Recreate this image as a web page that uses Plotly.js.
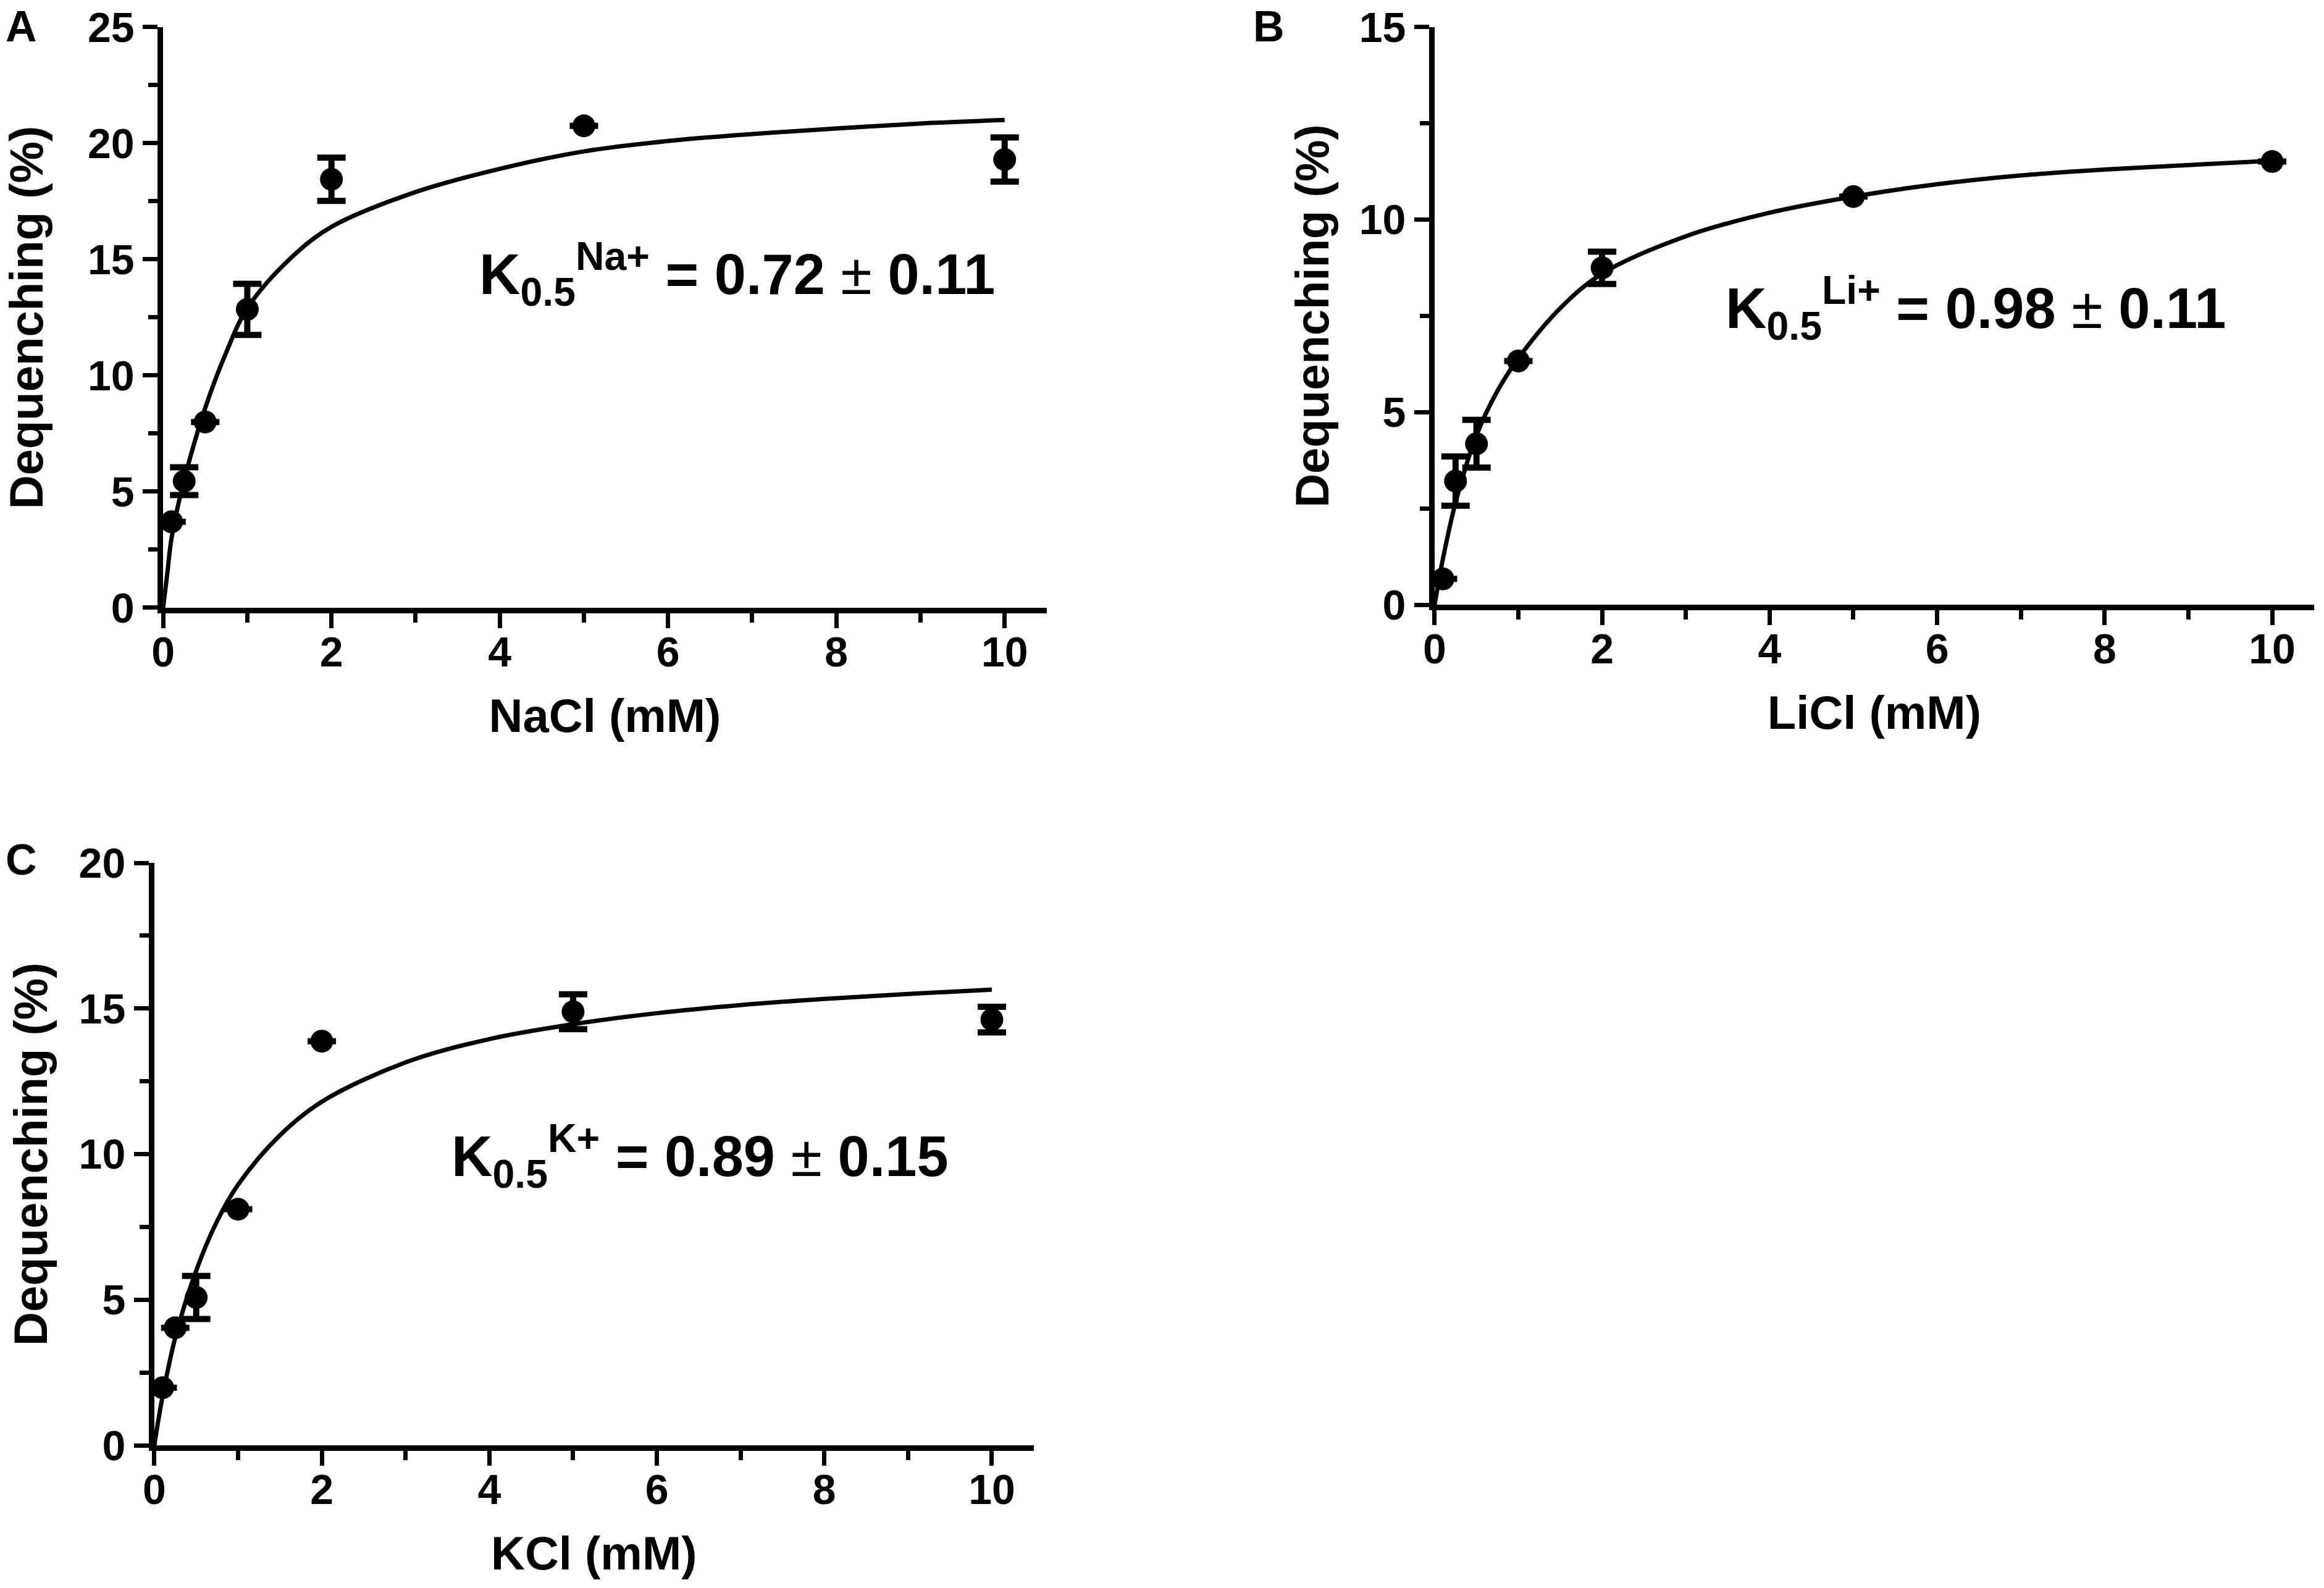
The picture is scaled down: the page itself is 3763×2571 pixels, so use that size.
<!DOCTYPE html>
<html>
<head>
<meta charset="utf-8">
<script src="https://cdn.plot.ly/plotly-3.0.1.min.js"></script>
<style>
  html, body { margin: 0; padding: 0; background: #fff; }
  #chart { width: 3763px; height: 2571px; }
</style>
</head>
<body>
<div id="chart"></div>
<script>
// salt concentrations (mM), same for all three panels
const conc = [0.1, 0.25, 0.5, 1, 2, 5, 10]

// A: NaCl
const naMean = [3.7, 5.45, 8.0, 12.85, 18.45, 20.75, 19.3]
const naErr  = [0, 0.6, 0, 1.1, 0.93, 0, 0.95]
// B: LiCl
const liMean = [0.67, 3.21, 4.18, 6.33, 8.75, 10.6, 11.51]
const liErr  = [0, 0.64, 0.62, 0, 0.42, 0, 0]
// C: KCl
const kMean  = [1.98, 4.04, 5.08, 8.11, 13.88, 14.89, 14.62]
const kErr   = [0, 0, 0.74, 0, 0, 0.6, 0.44]

// fitted curves
const fitX  = [0, 0.05, 0.1, 0.25, 0.5, 0.75, 1, 1.5, 2, 3, 4, 5, 6, 7, 8, 9, 10]
const naFit = [0, 1.5, 3.0, 5.5, 8.6, 11.0, 12.9, 15.0, 16.4, 17.9, 18.9, 19.65, 20.1, 20.4, 20.64, 20.85, 21.0]
const liFit = [0, 0.62, 1.2, 2.65, 4.4, 5.55, 6.4, 7.7, 8.6, 9.57, 10.18, 10.6, 10.92, 11.15, 11.3, 11.42, 11.53]
const kFit  = [0, 0.9, 1.7, 3.7, 6.0, 7.7, 8.95, 10.65, 11.8, 13.15, 13.95, 14.46, 14.84, 15.12, 15.33, 15.5, 15.65]

const xTicks = [0, 2, 4, 6, 8, 10]
const xMinor = [1, 3, 5, 7, 9]

const FONT = 'Liberation Sans Narrow, Arial Narrow, Liberation Sans, Arial, sans-serif'
const tickFont  = {family: FONT, size: 68, weight: 'bold', color: '#000'}
const titleFont = {family: FONT, size: 76, weight: 'bold', color: '#000'}

const points = (x, y, err, xa, ya) => ({
	x: x, y: y,
	xaxis: xa, yaxis: ya,
	type: 'scatter', mode: 'markers',
	marker: {color: '#000', size: 37},
	error_y: {type: 'data', array: err, visible: true, color: '#000', thickness: 10, width: 23},
	cliponaxis: false,
	hoverinfo: 'skip'
})

const curve = (x, y, xa, ya) => ({
	x: x, y: y,
	xaxis: xa, yaxis: ya,
	type: 'scatter', mode: 'lines',
	line: {color: '#000', width: 7, shape: 'spline'},
	cliponaxis: false,
	hoverinfo: 'skip'
})

const xAxis = (domain, anchor, title) => ({
	domain: domain, anchor: anchor,
	range: [0, 10.5],
	showline: true, linewidth: 9, linecolor: '#000',
	showgrid: false, zeroline: false,
	ticks: 'outside', ticklen: 24, tickwidth: 7, tickcolor: '#000',
	tickvals: xTicks,
	minor: {tickvals: xMinor, ticks: 'outside', ticklen: 15, tickwidth: 7, tickcolor: '#000'},
	tickfont: tickFont,
	ticklabelstandoff: -20,
	ticklabeloverflow: 'allow',
	title: {text: title, font: titleFont, standoff: 44}
})

const yAxis = (domain, anchor, maxV, ticks, minor, standoff) => ({
	domain: domain, anchor: anchor,
	range: [0, maxV],
	showline: true, linewidth: 9, linecolor: '#000',
	showgrid: false, zeroline: false,
	ticks: 'outside', ticklen: 24, tickwidth: 7, tickcolor: '#000',
	tickvals: ticks,
	minor: {tickvals: minor, ticks: 'outside', ticklen: 15, tickwidth: 7, tickcolor: '#000'},
	tickfont: tickFont,
	ticklabelstandoff: 0,
	ticklabeloverflow: 'allow',
	title: {text: 'Dequenching (%)', font: titleFont, standoff: standoff}
})

const data = [
	curve(fitX, naFit, 'x', 'y'),
	points(conc, naMean, naErr, 'x', 'y'),
	curve(fitX, liFit, 'x2', 'y2'),
	points(conc, liMean, liErr, 'x2', 'y2'),
	curve(fitX, kFit, 'x3', 'y3'),
	points(conc, kMean, kErr, 'x3', 'y3')
]

const kLabel = (ion, val) =>
	`K<sub>0.5</sub><sup>${ion}</sup> = ${val[0]} <span style="font-weight:normal">±</span> ${val[1]}`

const annFont = {family: FONT, size: 92, weight: 'bold', color: '#000'}
const letterFont = {family: 'Liberation Sans, Arial, sans-serif', size: 70, weight: 'bold', color: '#000'}

const ann = (text, px, py, font) => ({
	text: text,
	x: px / 3763, y: 1 - py / 2571,
	xref: 'paper', yref: 'paper',
	xanchor: 'center', yanchor: 'middle',
	showarrow: false, font: font
})

const layout = {
	width: 3763, height: 2571,
	margin: {l: 0, r: 0, t: 0, b: 0},
	paper_bgcolor: '#fff', plot_bgcolor: '#fff',
	showlegend: false,
	xaxis:  xAxis([0.0702, 0.4504], 'y', 'NaCl (mM)'),
	yaxis:  yAxis([0.6173, 0.9829], 'x', 25, [0, 5, 10, 15, 20, 25], [2.5, 7.5, 12.5, 17.5, 22.5], 58),
	xaxis2: xAxis([0.6173, 0.9957], 'y2', 'LiCl (mM)'),
	yaxis2: yAxis([0.6192, 0.9829], 'x2', 15, [0, 5, 10, 15], [2.5, 7.5, 12.5], 28),
	xaxis3: xAxis([0.0664, 0.4448], 'y3', 'KCl (mM)'),
	yaxis3: yAxis([0.0898, 0.4566], 'x3', 20, [0, 5, 10, 15, 20], [2.5, 7.5, 12.5, 17.5], 30),
	annotations: [
		ann(kLabel('Na+', ['0.72', '0.11']), 1193, 444, annFont),
		ann(kLabel('Li+', ['0.98', '0.11']), 3199, 499, annFont),
		ann(kLabel('K+', ['0.89', '0.15']), 1133, 1872, annFont),
		ann('A', 34, 43, letterFont),
		ann('B', 2054, 43, letterFont),
		ann('C', 34, 1392, letterFont)
	]
}

const config = {displayModeBar: false, staticPlot: true}
Plotly.newPlot('chart', data, layout, config)
</script>
</body>
</html>
